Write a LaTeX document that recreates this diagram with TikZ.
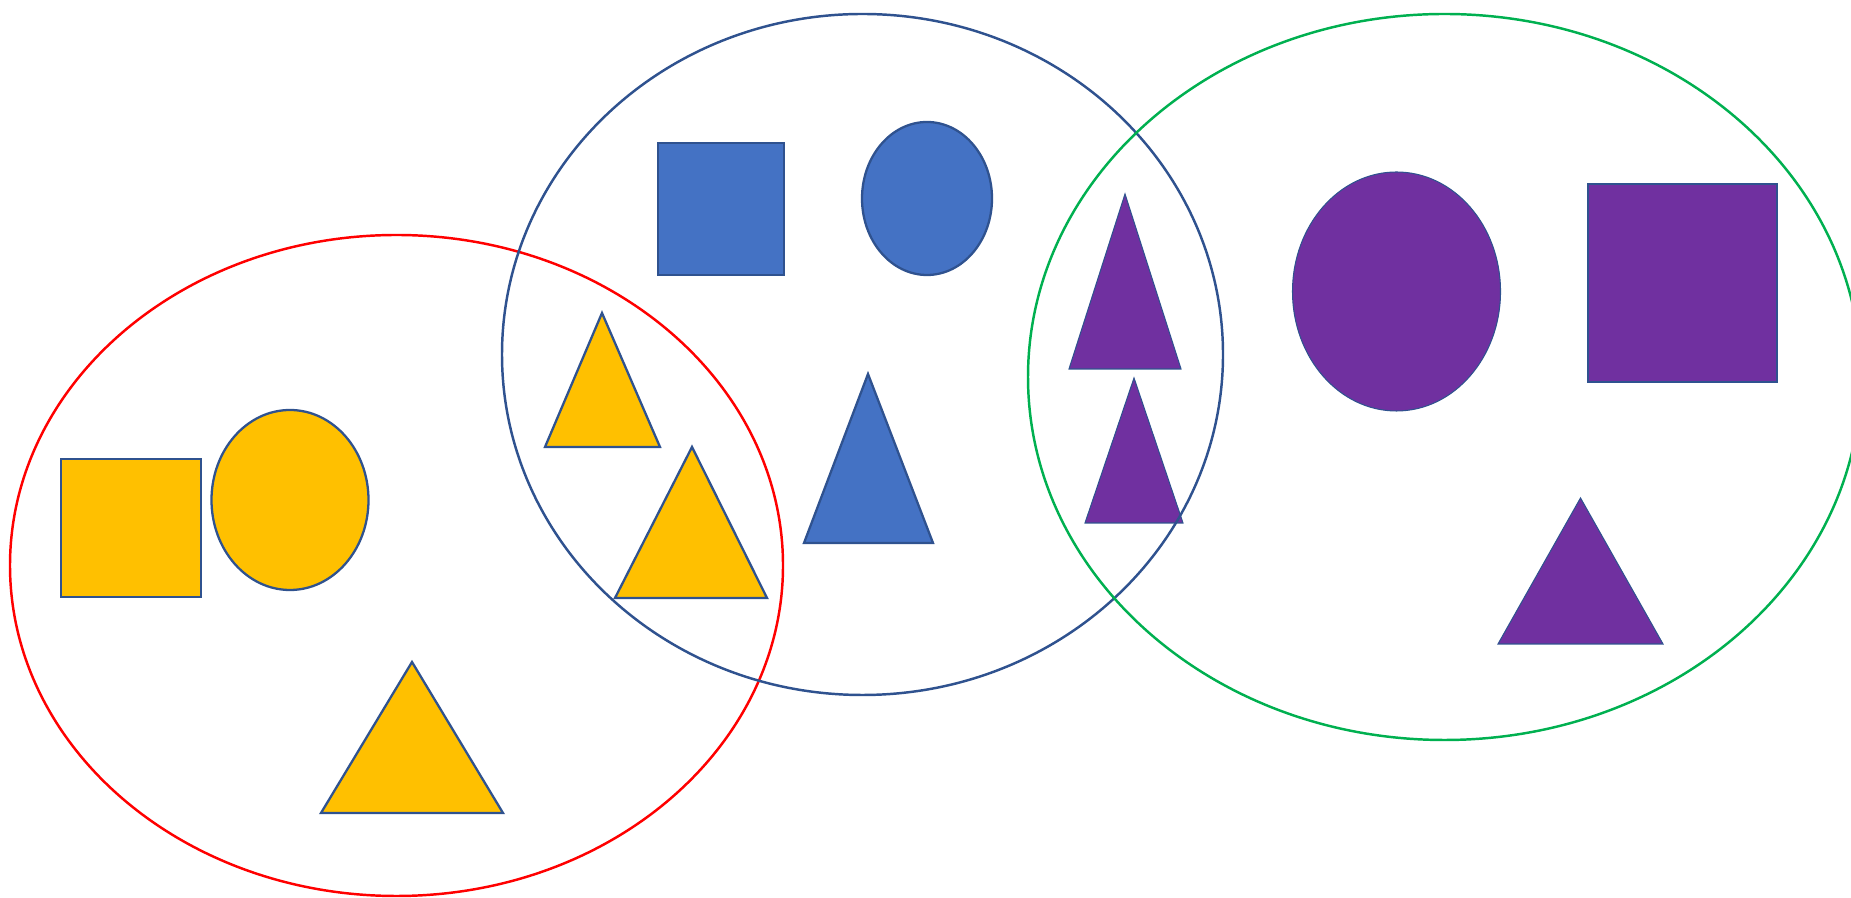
\documentclass[tikz,border=0pt]{standalone}
\usepackage{tikz}
\definecolor{gold}{HTML}{FFC000}
\definecolor{steel}{HTML}{4472C4}
\definecolor{plum}{HTML}{7030A0}
\definecolor{rim}{HTML}{2F528F}
\definecolor{leaf}{HTML}{00B050}

\begin{document}
\begin{tikzpicture}[x=0.01cm,y=-0.01cm,
  piece/.style={draw=rim,line width=0.65pt,line join=miter},
  thinpiece/.style={draw=rim,line width=0.3pt,fill=plum},
  ring/.style={line width=0.7pt}]
\useasboundingbox (0,0) rectangle (1851,898);
\coordinate (R) at (396.5,565.5);
\coordinate (B) at (862.5,354.5);
\coordinate (G) at (1444.5,377);
% yellow shapes
\draw[piece,fill=gold] (61,459) rectangle (201,597);
\draw[piece,fill=gold] (290,500) ellipse (78.5 and 90);
\draw[piece,fill=gold] (412,662) -- (503,813) -- (321,813) -- cycle;
\draw[piece,fill=gold] (602,313) -- (660,447) -- (545,447) -- cycle;
\draw[piece,fill=gold] (692,447) -- (767,598) -- (615,598) -- cycle;
% blue shapes
\draw[piece,fill=steel] (658,143) rectangle (784,275);
\draw[piece,fill=steel] (927,198.5) ellipse (65 and 76.5);
\draw[piece,fill=steel] (868,374) -- (933,543) -- (804,543) -- cycle;
% purple shapes
\draw[thinpiece] (1125,194) -- (1181,369) -- (1069,369) -- cycle;
\draw[thinpiece] (1134,378) -- (1183,523) -- (1085,523) -- cycle;
\draw[thinpiece] (1396.5,291.5) ellipse (104 and 119.5);
\draw[thinpiece] (1588,184) rectangle (1777,382);
\draw[thinpiece] (1580.5,498) -- (1663,644) -- (1498,644) -- cycle;
% draw the three sets
\draw[ring,red] (R) ellipse (386.5 and 330.5);
\draw[ring,rim] (B) ellipse (360.5 and 340.5);
\draw[ring,leaf] (G) ellipse (416.5 and 363);
\end{tikzpicture}
\end{document}
